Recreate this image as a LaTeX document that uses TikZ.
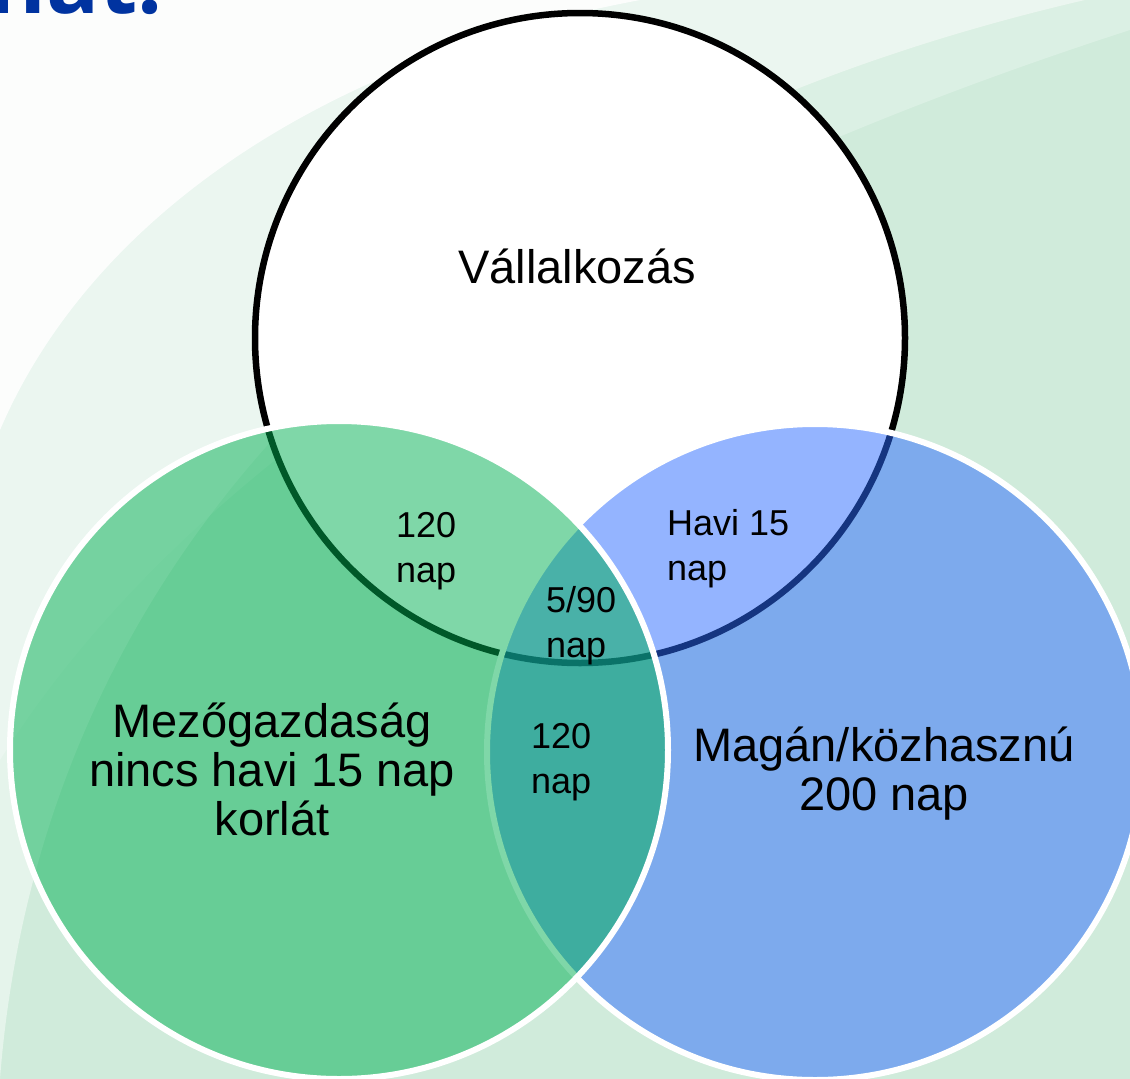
\documentclass[tikz,border=0pt]{standalone}
\usepackage{fontspec}
\setmainfont{Liberation Sans}
\newfontfamily\titlefont{Open Sans}
\usepackage{xcolor}
\usepackage{tikz}

\definecolor{bggreen}{RGB}{208,235,219}
\definecolor{vgreen}{RGB}{0,176,82}
\definecolor{vblue}{RGB}{43,107,255}
\definecolor{titleblue}{RGB}{0,51,160}

\begin{document}
\begin{tikzpicture}[x=1pt,y=-1pt,
    ring/.style={line width=6,draw=white,fill opacity=.5},
    big/.style={font=\fontsize{47}{49}\selectfont,align=center,inner sep=0pt,anchor=base},
    small/.style={font=\fontsize{36}{45}\selectfont,align=left,inner sep=0pt,anchor=base west}]
  \useasboundingbox (0,0) rectangle (1130,1079);
  \clip (0,0) rectangle (1130,1079);
  % background swoosh
  \fill[bggreen] (0,0) rectangle (1130,1079);
  \fill[white,opacity=.45] (0,1079) .. controls (40,560) and (420,140) .. (1130,-10) -- (0,0) -- cycle;
  \fill[white,opacity=.25] (0,760) .. controls (150,520) and (480,240) .. (1130,30) -- (1130,0) -- (0,0) -- cycle;
  \fill[white,opacity=.85] (0,430) .. controls (90,220) and (320,60) .. (640,0) -- (0,0) -- cycle;
  % title, cut off at the top
  \node[font=\titlefont\bfseries\fontsize{88}{88}\selectfont,text=titleblue,
        anchor=base west,inner sep=0pt] (T) at (-12,13) {hat.};
  % circles
  \draw[line width=6.5,fill=white] (580,338) circle (325);
  \draw[ring,fill=vblue] (815,752) circle (328);
  \draw[ring,fill=vgreen] (339,750) circle (329);
  % labels (base = last line)
  \node[big] (V) at (577,283) {Vállalkozás};
  \node[big] (M) at (272,835) {Mezőgazdaság\\nincs havi 15 nap\\korlát};
  \node[big] (K) at (884,810) {Magán/közhasznú\\200 nap};
  \node[small] (VM) at (396,582) {120\\nap};
  \node[small] (VK) at (667,580) {Havi 15\\nap};
  \node[small] (VMK) at (546,657) {5/90\\nap};
  \node[small] (MK) at (531,793) {120\\nap};
\end{tikzpicture}
\end{document}
